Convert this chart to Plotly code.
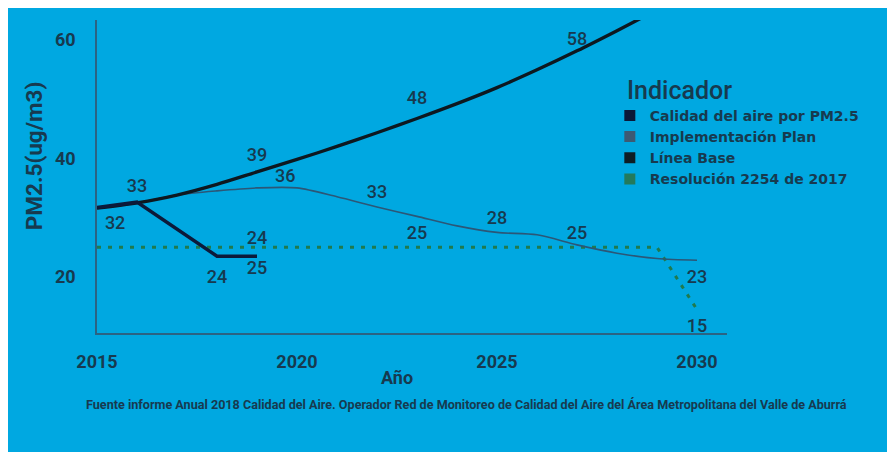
import plotly.graph_objects as go

# ---------------- data ----------------
years_calidad = [2015, 2016, 2018, 2019]
calidad = [31.7, 32.6, 23.5, 23.5]
calidad_labels = ["32", "33", "24", "24"]

years_plan = list(range(2015, 2031))
plan = [31.6, 32.5, 33.8, 34.5, 35.0, 35.0, 33.5, 31.8, 30.2, 28.6, 27.5, 27.1, 25.4, 24.0, 23.1, 22.8]
plan_labels = ["", "", "", "", "", "36", "", "33", "", "", "28", "", "25", "", "", "23"]

years_base = list(range(2015, 2030))
base = [31.6, 32.5, 33.8, 35.6, 37.7, 39.8, 42.0, 44.3, 46.7, 49.2, 51.9, 54.9, 58.1, 61.5, 65.0]
base_labels = ["", "", "", "", "39", "", "", "", "48", "", "", "", "58", "", ""]

years_res = list(range(2015, 2031))
resolucion = [25] * 15 + [14.5]
res_labels = ["", "", "", "", "25", "", "", "", "25", "", "", "", "", "", "", "15"]

series_names = ["Calidad del aire por PM2.5", "Implementación Plan", "Línea Base", "Resolución 2254 de 2017"]
y_ticks = [20, 40, 60]
x_ticks = [2015, 2020, 2025, 2030]

# ---------------- styles ----------------
BG = "#00a8e1"
TXT = "#173a4f"
FONT = "Roboto"
c_calidad = "#0c1a3a"
c_plan = "#2b5777"
c_base = "#0d1820"
c_res = "#1f7a4e"
leg_colors = ["#0b1838", "#3d5a73", "#0e1d24", "#237a5c"]

calidad_pos = ["bottom right", "top center", "bottom center", "top center"]
calidad_gap = [11, 8, 19, 10]
plan_pos = ["top center"] * 15 + ["bottom center"]
plan_pos[5] = "top left"
plan_gap = [0, 0, 0, 0, 0, 1, 0, 6, 0, 0, 4, 0, 1, 0, 0, 13]
base_gap = [0, 0, 0, 0, 9, 0, 0, 0, 14, 0, 0, 0, 1, 0, 0]
res_pos = ["top center"] * 16
res_pos[4] = "bottom center"
res_pos[15] = "bottom center"
res_gap = [0, 0, 0, 0, 19, 0, 0, 0, 5, 0, 0, 0, 0, 0, 0, 12]

lab_font = dict(family=FONT, size=18, color=TXT, weight=500)

fig = go.Figure()

fig.add_trace(go.Scatter(
    x=years_res, y=resolucion, mode="lines+markers+text", text=res_labels,
    textposition=res_pos, textfont=lab_font,
    line=dict(color=c_res, width=3, dash="4px,7px"),
    marker=dict(size=res_gap, opacity=0), showlegend=False, hoverinfo="skip"))

fig.add_trace(go.Scatter(
    x=years_plan, y=plan, mode="lines+markers+text", text=plan_labels,
    textposition=plan_pos, textfont=lab_font,
    line=dict(color=c_plan, width=1.6, shape="spline", smoothing=0.8),
    marker=dict(size=plan_gap, opacity=0), showlegend=False, hoverinfo="skip"))

fig.add_trace(go.Scatter(
    x=years_base, y=base, mode="lines+markers+text", text=base_labels,
    textposition="top center", textfont=lab_font,
    line=dict(color=c_base, width=3.3, shape="spline", smoothing=0.8),
    marker=dict(size=base_gap, opacity=0), showlegend=False, hoverinfo="skip"))

fig.add_trace(go.Scatter(
    x=years_calidad, y=calidad, mode="lines+markers+text", text=calidad_labels,
    textposition=calidad_pos, textfont=lab_font,
    line=dict(color=c_calidad, width=3.5),
    marker=dict(size=calidad_gap, opacity=0), showlegend=False, hoverinfo="skip"))

for name, col in zip(series_names, leg_colors):
    fig.add_trace(go.Scatter(x=[None], y=[None], mode="markers", name=name,
                             marker=dict(symbol="square", size=11, color=col)))

fig.update_layout(
    width=887, height=444,
    margin=dict(l=89, r=168, t=12, b=119),
    paper_bgcolor=BG, plot_bgcolor=BG,
    font=dict(family=FONT, color=TXT),
    showlegend=True,
    legend=dict(
        font=dict(family="DejaVu Sans", size=14, color=TXT, weight=700),
        x=0.814, y=0.745, xanchor="left", yanchor="top",
        bgcolor="rgba(0,0,0,0)", itemclick=False, tracegroupgap=0,
    ),
    xaxis=dict(range=[2015, 2030.75], tickvals=x_ticks, ticktext=[str(v) for v in x_ticks],
               showgrid=False, zeroline=False, showline=True, linecolor="#2b6383", linewidth=1.5,
               tickfont=dict(family=FONT, size=18, color=TXT, weight=700),
               ticks="", ticklabelstandoff=12),
    yaxis=dict(range=[10.55, 63.3], tickvals=y_ticks, ticktext=[str(v) for v in y_ticks],
               showgrid=False, zeroline=False, showline=True, linecolor="#2b6383", linewidth=1.5,
               tickfont=dict(family=FONT, size=18, color=TXT, weight=700),
               ticks="", ticklabelstandoff=16),
    annotations=[
        dict(text="Indicador", xref="paper", yref="paper", x=0.838, y=0.776,
             xanchor="left", yanchor="middle", showarrow=False,
             font=dict(family=FONT, size=25, color=TXT, weight=500)),
        dict(text="PM2.5(ug/m3)", xref="paper", yref="paper", x=-0.1, y=0.565, textangle=-90,
             xanchor="center", yanchor="middle",
             showarrow=False, font=dict(family=FONT, size=22.5, color=TXT, weight=700)),
        dict(text="Año", xref="paper", yref="paper", x=0.476, y=-0.1406,
             xanchor="center", yanchor="middle", showarrow=False,
             font=dict(family=FONT, size=18, color=TXT, weight=700)),
        dict(text="Fuente informe Anual 2018 Calidad del Aire. Operador Red de Monitoreo de Calidad del Aire del Área Metropolitana del Valle de Aburrá",
             xref="paper", yref="paper", x=0.587, y=-0.227, xanchor="center", yanchor="middle",
             showarrow=False,
             font=dict(family=FONT, size=12.6, color=TXT, weight=700)),
    ],
)

fig.write_html("out.html", post_script="document.body.style.overflow='hidden';")
